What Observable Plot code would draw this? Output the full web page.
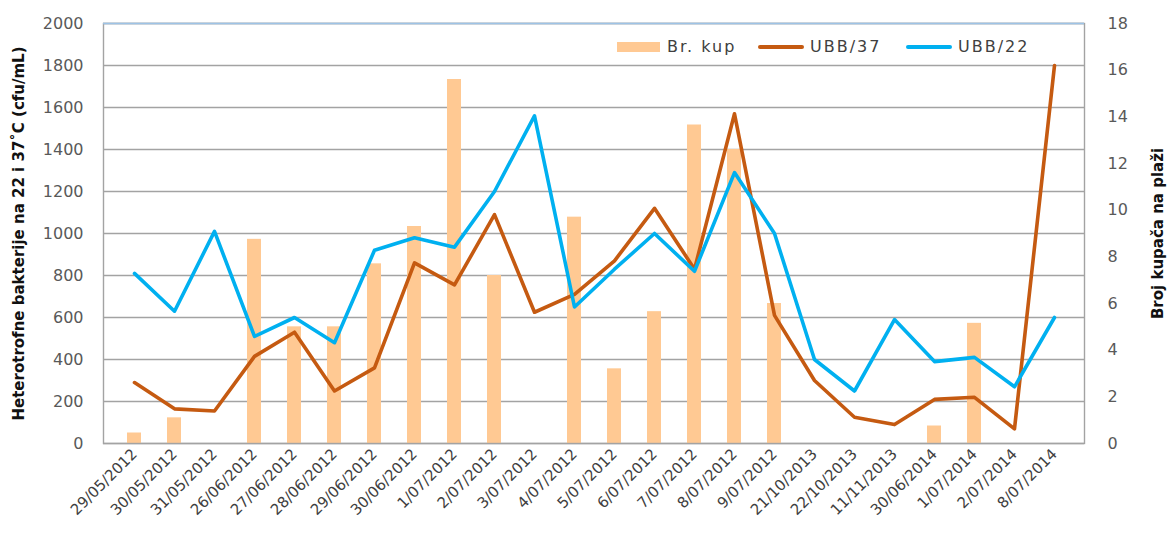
<!DOCTYPE html>
<html>
<head>
<meta charset="utf-8">
<script src="https://cdn.jsdelivr.net/npm/d3@7"></script>
<script src="https://cdn.jsdelivr.net/npm/@observablehq/plot@0.6"></script>
<style>
  html, body { margin: 0; padding: 0; background: #fff; }
  #wrap { position: relative; width: 1168px; height: 546px; overflow: hidden; }
  .lg { position: absolute; font-family: "DejaVu Sans", sans-serif; font-size: 16px; color: #404040; letter-spacing: 2px; line-height: 20px; top: 37px; }
  .sw { position: absolute; }
</style>
</head>
<body>
<div id="wrap"></div>
<script>
// ---- data ----
const dates = ["29/05/2012","30/05/2012","31/05/2012","26/06/2012","27/06/2012","28/06/2012","29/06/2012","30/06/2012","1/07/2012","2/07/2012","3/07/2012","4/07/2012","5/07/2012","6/07/2012","7/07/2012","8/07/2012","9/07/2012","21/10/2013","22/10/2013","11/11/2013","30/06/2014","1/07/2014","2/07/2014","8/07/2014"];
const ubb37 = [290,165,155,415,530,250,360,860,755,1090,625,710,870,1120,830,1570,610,300,125,90,210,220,70,1800];
const ubb22 = [810,630,1010,510,600,480,920,980,935,1200,1560,650,830,1000,820,1290,1000,400,250,590,390,410,270,600];
const kupaci = [0.45,1.1,0,8.75,5,5,7.7,9.3,15.6,7.2,0,9.7,3.2,5.65,13.65,12.6,6,0,0,0,0.75,5.15,0,0];
const leftTicks = [0,200,400,600,800,1000,1200,1400,1600,1800,2000];
const rightTicks = [0,2,4,6,8,10,12,14,16,18];
const leftTitle = "Heterotrofne bakterije na 22 i 37˚C (cfu/mL)";
const rightTitle = "Broj kupača na plaži";
const seriesNames = ["Br. kup","UBB/37","UBB/22"];
const colors = {kup:"#ffc993", ubb37:"#c55a11", ubb22:"#00b0f0"};

const rightMax = 18, leftMax = 2000;
const k = leftMax / rightMax;
const rows = dates.map((d, i) => ({date: d, ubb37: ubb37[i], ubb22: ubb22[i], kup: kupaci[i]}));

const plot = Plot.plot({
  width: 1168,
  height: 546,
  marginLeft: 103,
  marginRight: 84,
  marginTop: 23,
  marginBottom: 103,
  style: {fontFamily: "DejaVu Sans, sans-serif", fontSize: "16px", color: "#404040", background: "#fff", overflow: "visible"},
  x: {type: "band", domain: dates, paddingInner: 0.66, paddingOuter: 0.33, label: null},
  y: {domain: [0, leftMax], label: null},
  marks: [
    Plot.gridY(leftTicks, {stroke: "#a3a3a3", strokeOpacity: 1, strokeWidth: 1.4}),
    Plot.barY(rows, {x: "date", y: d => d.kup * k, fill: colors.kup}),
    Plot.line(rows, {x: "date", y: "ubb37", stroke: colors.ubb37, strokeWidth: 3.6, strokeLinejoin: "round"}),
    Plot.line(rows, {x: "date", y: "ubb22", stroke: colors.ubb22, strokeWidth: 3.6, strokeLinejoin: "round"}),
    Plot.frame({stroke: "#a3a3a3", strokeWidth: 1.4}),
    Plot.ruleY([leftMax], {stroke: "#9dc3e6", strokeWidth: 1.4}),
    Plot.axisY(leftTicks, {anchor: "left", tickSize: 0, tickPadding: 20, label: null, tickFormat: d => String(d), fill: "#595959", fontSize: 16, letterSpacing: 1.5}),
    Plot.axisY(rightTicks.map(t => t * k), {anchor: "right", tickSize: 0, tickPadding: 23, label: null, tickFormat: d => String(Math.round(d / k)), fill: "#595959", fontSize: 16, letterSpacing: 1.5}),
    Plot.axisX({tickRotate: -45, tickSize: 0, tickPadding: 8, label: null, fill: "#404040", fontSize: 15}),
    Plot.text([leftTitle], {frameAnchor: "left", textAnchor: "middle", rotate: -90, dx: -84, text: d => d, fontWeight: "bold", fontSize: 15, fill: "#111"}),
    Plot.text([rightTitle], {frameAnchor: "right", textAnchor: "middle", rotate: -90, dx: 74, dy: 0, text: d => d, fontWeight: "bold", fontSize: 15, fill: "#111"})
  ]
});

const wrap = document.getElementById("wrap");
wrap.appendChild(plot);

// legend (inside plot area, top right)
const legendItems = [
  {name: seriesNames[0], color: colors.kup, type: "bar", sx: 617, tx: 667},
  {name: seriesNames[1], color: colors.ubb37, type: "line", sx: 758, tx: 810},
  {name: seriesNames[2], color: colors.ubb22, type: "line", sx: 906, tx: 958}
];
for (const it of legendItems) {
  const sw = document.createElement("div");
  sw.className = "sw";
  sw.style.left = it.sx + "px";
  sw.style.width = (it.type === "bar" ? 43 : 46) + "px";
  sw.style.height = (it.type === "bar" ? 10 : 4) + "px";
  sw.style.top = (it.type === "bar" ? 42 : 45) + "px";
  sw.style.background = it.color;
  if (it.type === "line") sw.style.borderRadius = "2px";
  wrap.appendChild(sw);
  const t = document.createElement("div");
  t.className = "lg";
  t.style.left = it.tx + "px";
  t.textContent = it.name;
  wrap.appendChild(t);
}
</script>
</body>
</html>
